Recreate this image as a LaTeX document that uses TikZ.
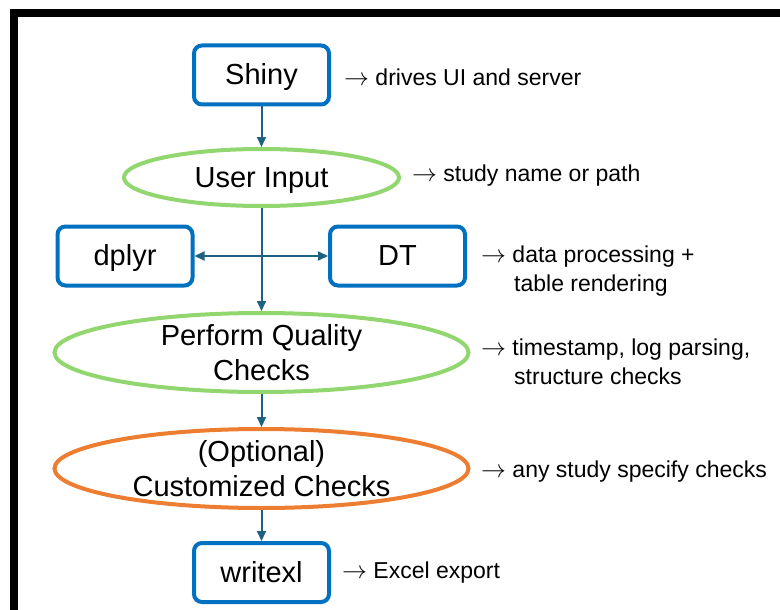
\documentclass[tikz,border=0pt]{standalone}
\usepackage{fontspec}
\setmainfont{Liberation Sans}
\usetikzlibrary{shapes.geometric,arrows.meta}
\definecolor{pkgblue}{RGB}{0,112,192}
\definecolor{taskgreen}{RGB}{146,214,112}
\definecolor{optorange}{RGB}{237,125,49}
\definecolor{flowteal}{RGB}{30,98,130}

\begin{document}
\begin{tikzpicture}[x=1pt,y=-1pt]
        \tikzstyle{pkg}=[rectangle,rounded corners=8pt,draw=pkgblue,line width=4pt,minimum width=135pt,minimum height=59pt,inner sep=0pt,text height=19pt,text depth=0pt,font=\fontsize{29}{35}\selectfont]
        \tikzstyle{task}=[ellipse,line width=4pt,inner xsep=0pt,inner ysep=-6pt,align=center,font=\fontsize{29}{35}\selectfont]
        \tikzstyle{note}=[anchor=base west,inner sep=0pt,align=left,font=\fontsize{23}{29}\selectfont]
        \tikzstyle{flow}=[draw=flowteal,line width=2pt,>={Triangle[length=10pt,width=9pt]},->]

        \useasboundingbox (0,0) rectangle (780,610);
        % frame
        \fill (10,9.5) rectangle (780,17);
        \fill (10,9.5) rectangle (17.5,610);

        \foreach \name/\x/\y/\txt in {shiny/261.5/75/Shiny, dplyr/125/256/dplyr, dt/397.5/256/DT, writexl/261.5/572.5/writexl}
                \node[pkg] (\name) at (\x,\y) {\txt};

        \node[task,draw=taskgreen,minimum width=275pt,minimum height=57pt,text height=19pt,text depth=0pt] (input) at (261.5,177.5) {User Input};
        \node[task,draw=taskgreen,minimum width=414pt,minimum height=79pt] (quality) at (261.5,352.5) {Perform Quality\\Checks};
        \node[task,draw=optorange,minimum width=414pt,minimum height=79pt] (custom) at (261.5,468.5) {(Optional)\\Customized Checks};

        % notes, y is the baseline of the last line
        \foreach \name/\x/\y/\txt in {shiny/344/85/{$\rightarrow$ drives UI and server}, input/412/181/{$\rightarrow$ study name or path}, dt/481/291/{$\rightarrow$ data processing +\\\hspace*{33pt}table rendering}, quality/481/384/{$\rightarrow$ timestamp, log parsing,\\\hspace*{33pt}structure checks}, custom/481/477/{$\rightarrow$ any study specify checks}, writexl/342/578/{$\rightarrow$ Excel export}}
                \node[note] (N-\name) at (\x,\y) {\txt};

        \draw[flow] (shiny) -- (input);
        \draw[flow] (input) -- (quality);
        \draw[flow,<->] (dplyr) -- (dt);
        \draw[flow] (quality) -- (custom);
        \draw[flow] (custom) -- (writexl);
\end{tikzpicture}
\end{document}
